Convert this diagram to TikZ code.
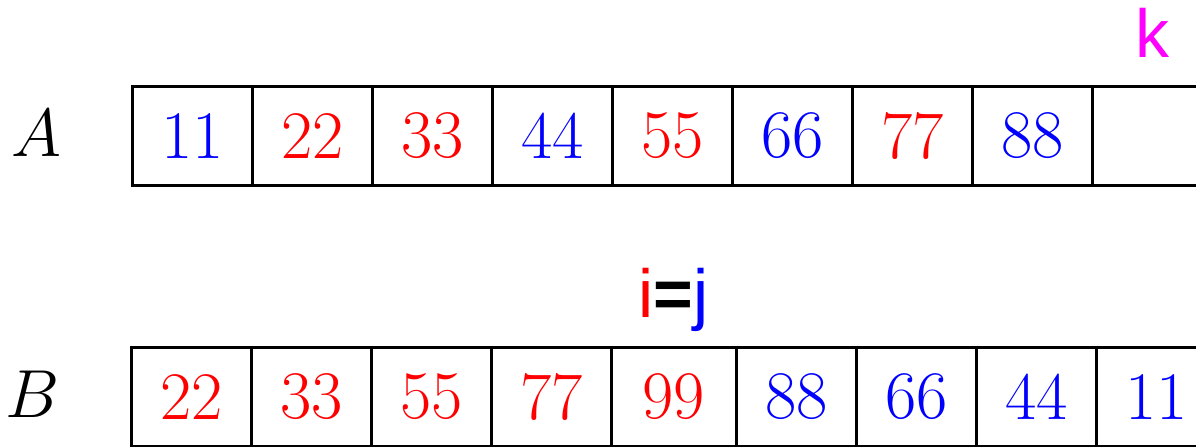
\documentclass[tikz,border=0pt]{standalone}
\usepackage{fontspec}
\newfontfamily\helv{Liberation Sans}
\usepackage{xcolor}
\definecolor{cred}{RGB}{255,0,0}
\definecolor{cblue}{RGB}{0,0,255}
\definecolor{cmag}{RGB}{255,0,255}
\begin{document}
\begin{tikzpicture}[x=0.5pt,y=-0.5pt,
  cell/.style={draw=black,line width=1.5pt,rectangle,inner sep=0pt,outer sep=0pt,
    minimum width=60pt,minimum height=49.75pt,
    font=\fontsize{34}{40}\selectfont},
  rd/.style={cell,text=cred},
  bl/.style={cell,text=cblue},
  arrlabel/.style={inner sep=0pt,font=\Huge,scale=1.3665},
  ptr/.style={inner sep=0pt,anchor=base,font=\helv\fontsize{34}{40}\selectfont}]
\useasboundingbox (0,0) rectangle (1196,446);
% array A
\node[bl] (a1) at (192.5,135.75) {11};
\node[rd] (a2) at (312.5,135.75) {22};
\node[rd] (a3) at (432.5,135.75) {33};
\node[bl] (a4) at (552.5,135.75) {44};
\node[rd] (a5) at (672.5,135.75) {55};
\node[bl] (a6) at (792.5,135.75) {66};
\node[rd] (a7) at (912.5,135.75) {77};
\node[bl] (a8) at (1032.5,135.75) {88};
\node[cell] (a9) at (1152.5,135.75) {};
% array B
\node[rd] (b1) at (191.5,396.75) {22};
\node[rd] (b2) at (311.5,396.75) {33};
\node[rd] (b3) at (431.5,396.75) {55};
\node[rd,minimum width=59.75pt] (b4) at (551.25,396.75) {77};
\node[rd,minimum width=62.75pt] (b5) at (673.75,396.75) {99};
\node[bl] (b6) at (796.5,396.75) {88};
\node[bl] (b7) at (916.5,396.75) {66};
\node[bl] (b8) at (1036.5,396.75) {44};
\node[bl] (b9) at (1156.5,396.75) {11};
% labels
\node[arrlabel] (la) at (36,133.5) {$A$};
\node[arrlabel] (lb) at (33,394.5) {$B$};
\node[ptr,text=cmag] (k) at (1152.5,57) {k};
\node[ptr] (ij) at (673.75,317) {\textcolor{cred}{i}\textbf{=}\textcolor{cblue}{j}};
\end{tikzpicture}
\end{document}
